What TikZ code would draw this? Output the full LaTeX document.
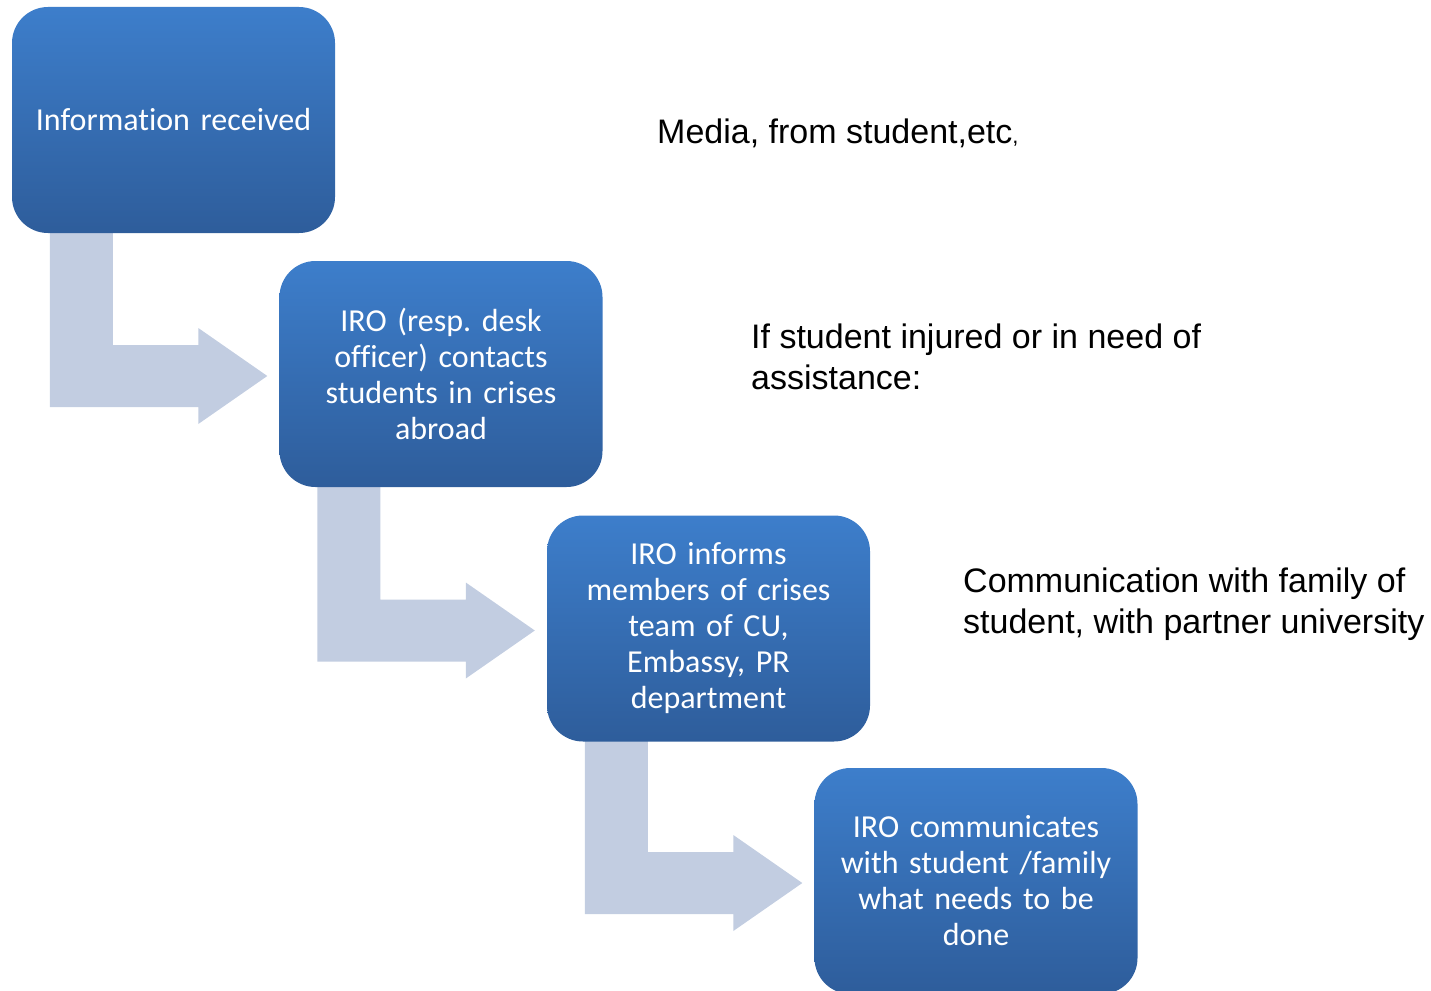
\documentclass[tikz,border=0pt]{standalone}
\usepackage{fontspec}
\setmainfont{Liberation Sans}
\newfontfamily\boxfont[Ligatures=NoCommon]{Carlito}
\usetikzlibrary{calc}
\frenchspacing
\definecolor{boxtop}{RGB}{61,126,203}
\definecolor{boxbot}{RGB}{46,93,155}
\definecolor{arrowfill}{RGB}{194,205,225}
\tikzset{
  stepbox/.style={rounded corners=36pt, top color=boxtop, bottom color=boxbot,
    draw=none, minimum width=323pt, minimum height=226pt, text width=300pt,
    align=center, text=white, inner sep=0pt,
    font=\boxfont\fontsize{32}{36}\selectfont},
  note/.style={anchor=west, align=left, inner sep=0pt, text=black,
    font=\fontsize{34}{41}\selectfont}
}
\newcommand\bentarr[2]{%
  \fill[arrowfill] let \p1=(#1.south west), \p2=(#2.west) in
    (\x1+38pt,\y1+2pt) -- (\x1+101pt,\y1+2pt) -- (\x1+101pt,\y2+29pt)
    -- (\x2-81pt,\y2+29pt) -- (\x2-81pt,\y2+46pt) -- (\x2-12pt,\y2-2pt)
    -- (\x2-81pt,\y2-50pt) -- (\x2-81pt,\y2-33pt) -- (\x1+38pt,\y2-33pt) -- cycle;}
\begin{document}
\begin{tikzpicture}[x=1pt,y=-1pt]
\useasboundingbox (0,0) rectangle (1431,990);
\begin{scope}
\clip (0,0) rectangle (1431,990);
\coordinate (c1) at (173.5,120);
\coordinate (c2) at (441,374);
\coordinate (c3) at (708.5,628.5);
\coordinate (c4) at (976,881);
\node[stepbox, opacity=0] (b1g) at (c1) {};
\node[stepbox, opacity=0] (b2g) at (c2) {};
\node[stepbox, opacity=0] (b3g) at (c3) {};
\node[stepbox, opacity=0] (b4g) at (c4) {};
\bentarr{b1g}{b2g}
\bentarr{b2g}{b3g}
\bentarr{b3g}{b4g}
\node[stepbox] (b1) at (c1) {Information received};
\node[stepbox] (b2) at (c2) {IRO (resp. desk\\officer) contacts\\students in crises\\abroad};
\node[stepbox] (b3) at (c3) {IRO informs\\members of crises\\team of CU,\\Embassy, PR\\department};
\node[stepbox] (b4) at (c4) {IRO communicates\\with student /family\\what needs to be\\done};
\end{scope}
\node[note] (n1) at (657,133) {Media, from student,etc{\fontsize{22}{22}\selectfont,}};
\node[note] (n2) at (751,357) {If student injured or in need of\\assistance:};
\node[note] (n3) at (963,604) {Communication with family of\\student, with partner university};
\end{tikzpicture}
\end{document}
